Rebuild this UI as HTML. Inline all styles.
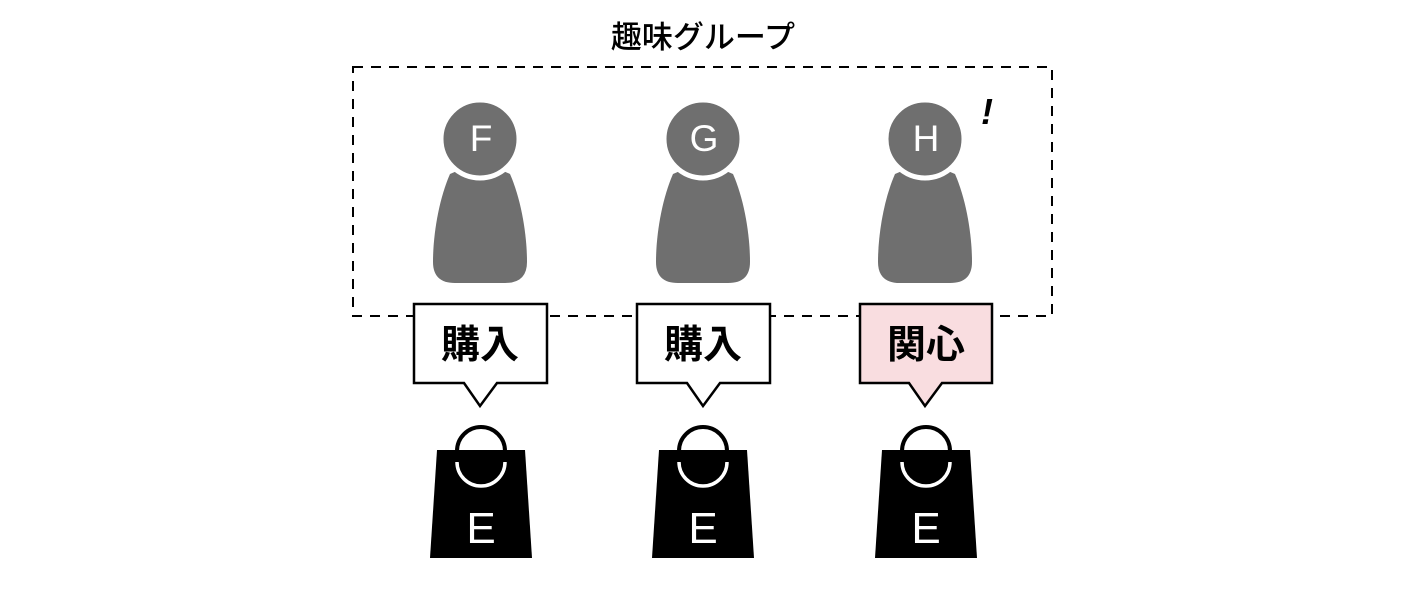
<!DOCTYPE html>
<html><head><meta charset="utf-8"><style>
html,body{margin:0;padding:0;background:#fff;}
svg{display:block;}
</style></head><body>
<svg width="1406" height="600" viewBox="0 0 1406 600" xmlns="http://www.w3.org/2000/svg">
<defs>
<g id="person">
  <path d="M-30 35 C-41 60,-47 95,-47 123 Q-47 144,-25 144 L25 144 Q47 144,47 123 C47 95,41 60,30 35 Q0 20,-30 35 Z" fill="#6f6f6f"/>
  <circle cx="0" cy="0" r="39" fill="#6f6f6f" stroke="#fff" stroke-width="5"/>
</g>
<g id="bag">
  <circle cx="0" cy="451" r="24" fill="none" stroke="#000" stroke-width="4"/>
  <path d="M-44 450 L44 450 L51 558 L-51 558 Z" fill="#000"/>
  <path d="M-24 462 A24 24 0 0 0 24 462" fill="none" stroke="#fff" stroke-width="3.5"/>
</g>
</defs>
<text x="703" y="48" text-anchor="middle" font-family="Liberation Sans, Noto Sans CJK JP, sans-serif" font-size="31" font-weight="500" fill="#000">趣味グループ</text>
<rect x="353" y="67" width="699" height="249" fill="none" stroke="#000" stroke-width="2" stroke-dasharray="10 8"/>

<g font-family="Liberation Sans, sans-serif" fill="#fff" text-anchor="middle">
<use href="#person" x="480" y="139"/>
<use href="#person" x="703" y="139"/>
<use href="#person" x="925" y="139"/>
<text x="481" y="151" font-size="37">F</text>
<text x="704" y="151" font-size="37">G</text>
<text x="926" y="151" font-size="37">H</text>
</g>
<text x="987" y="124" font-family="Liberation Sans, sans-serif" font-size="36" font-weight="bold" font-style="italic" fill="#000" text-anchor="middle">!</text>

<g stroke="#000" stroke-width="2.5">
<path d="M414 304 L547 304 L547 383 L497 383 L480 406 L464 383 L414 383 Z" fill="#fff"/>
<path d="M637 304 L770 304 L770 383 L720 383 L703 406 L687 383 L637 383 Z" fill="#fff"/>
<path d="M860 304 L992 304 L992 383 L942 383 L925 406 L909 383 L860 383 Z" fill="#f9dde0"/>
</g>
<g font-family="Liberation Sans, Noto Sans CJK JP, sans-serif" font-size="39" font-weight="bold" fill="#000" text-anchor="middle">
<text x="480" y="358">購入</text>
<text x="703" y="358">購入</text>
<text x="926" y="358">関心</text>
</g>

<use href="#bag" x="481" y="0"/>
<use href="#bag" x="703" y="0"/>
<use href="#bag" x="926" y="0"/>
<g font-family="Liberation Sans, sans-serif" font-size="44" fill="#fff" text-anchor="middle">
<text x="481" y="543">E</text>
<text x="703" y="543">E</text>
<text x="926" y="543">E</text>
</g>
</svg>
</body></html>
